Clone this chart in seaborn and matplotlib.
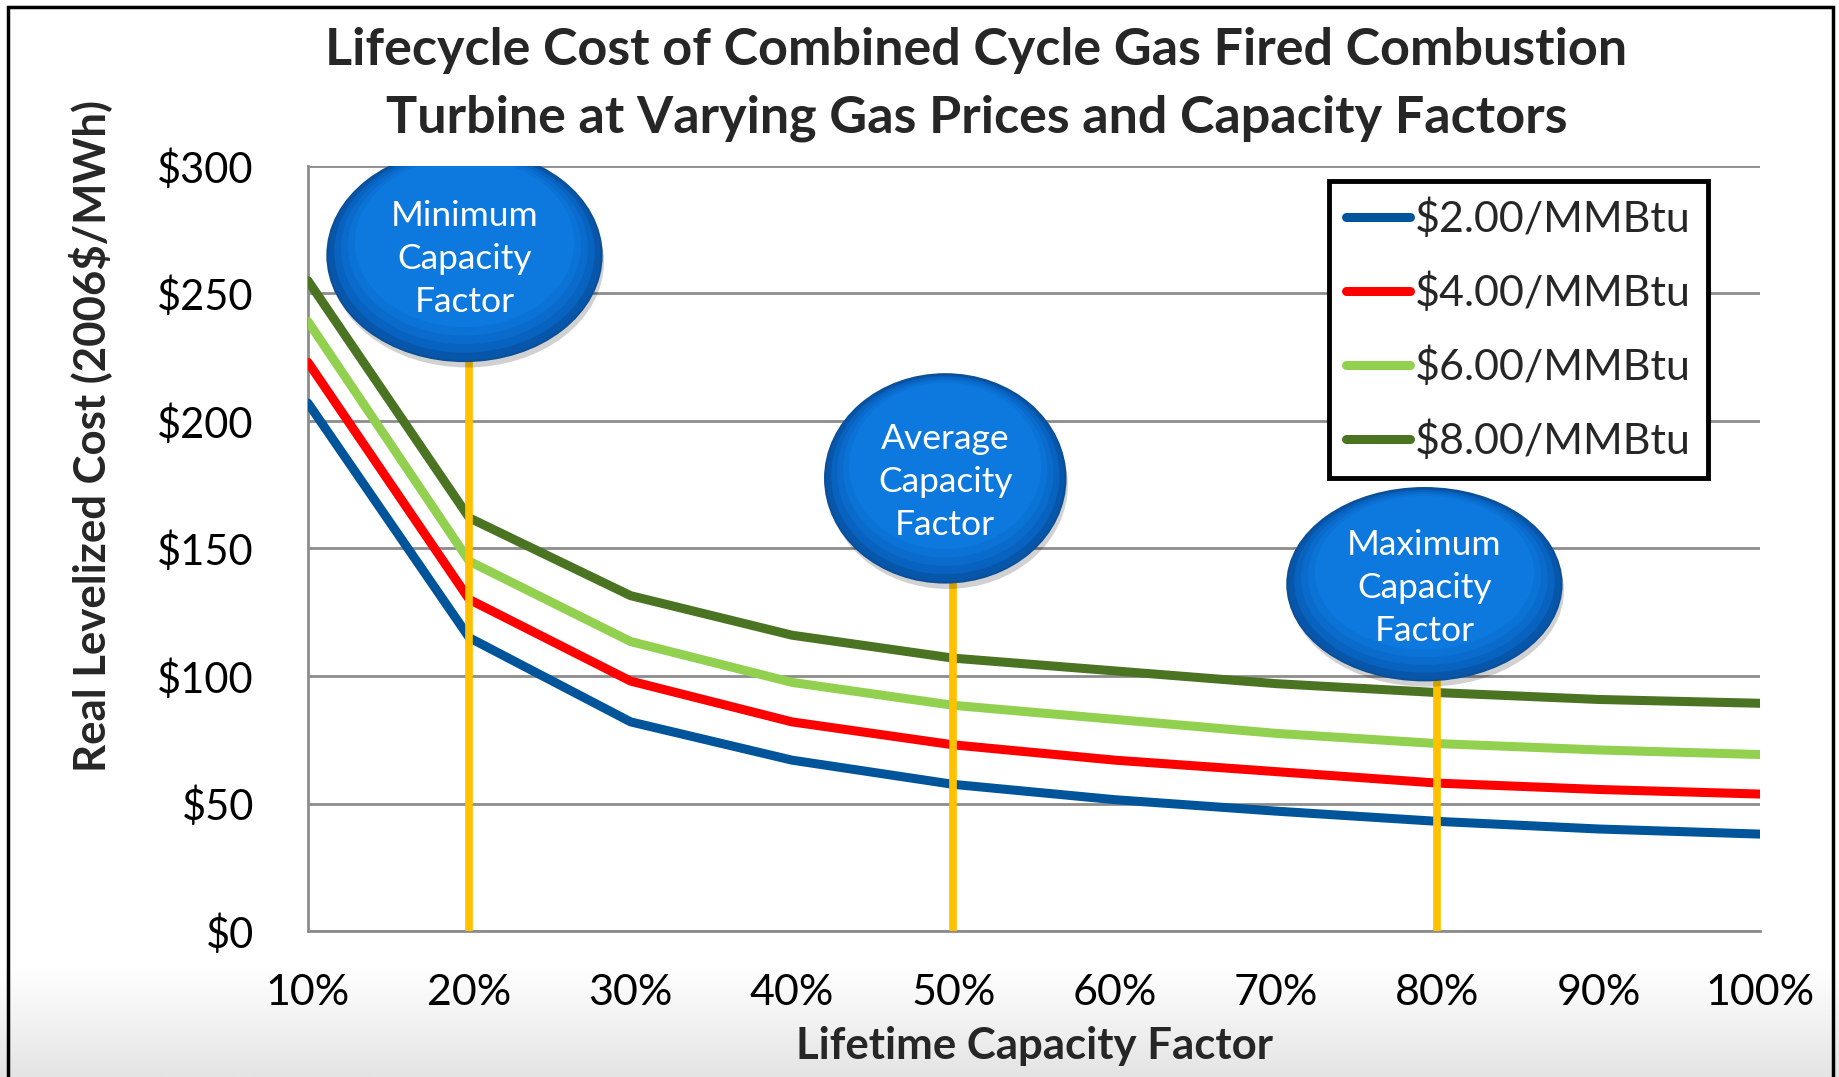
import numpy as np
import pandas as pd
import seaborn as sns
import matplotlib.pyplot as plt
from matplotlib.patches import Ellipse, Rectangle
from matplotlib.colors import LinearSegmentedColormap

# values
capacity_factor = [10, 20, 30, 40, 50, 60, 70, 80, 90, 100]
cost_2 = [207, 115, 82, 67, 57.5, 51.5, 47, 43, 40, 38]
cost_4 = [223, 130, 98, 82, 73, 67, 62.5, 58, 55.5, 53.7]
cost_6 = [239, 145, 113.5, 97.5, 88.5, 83, 77.5, 73.5, 71, 69.2]
cost_8 = [255, 162, 131.5, 116, 107, 102, 97, 93.5, 90.8, 89.3]
series_names = ["$2.00/MMBtu", "$4.00/MMBtu", "$6.00/MMBtu", "$8.00/MMBtu"]
series_colors = ["#00559A", "#FF0000", "#92D050", "#4A7322"]

marker_x = [20, 50, 80]
marker_top = [224.6, 136.6, 98.6]
bubble_labels = ["Minimum\nCapacity\nFactor", "Average\nCapacity\nFactor", "Maximum\nCapacity\nFactor"]
bubble_xy = [(19.7, 265), (49.5, 177.5), (79.2, 136)]
bubble_wh = [(17.0, 83), (14.9, 81.7), (17.0, 75.4)]

rows = []
for name, vals in zip(series_names, [cost_2, cost_4, cost_6, cost_8]):
    for cf, v in zip(capacity_factor, vals):
        rows.append({"cf": cf, "cost": v, "price": name})
df = pd.DataFrame(rows)

sns.set_theme(style="white")
plt.rcParams['font.family'] = ['Lato', 'DejaVu Sans']

fig = plt.figure(figsize=(18.39, 10.77), dpi=100)
fig.patch.set_facecolor('white')

# light gray fade along the bottom of the slide
bg = fig.add_axes([0, 0, 1, 110 / 1077], zorder=-10)
fade = LinearSegmentedColormap.from_list('fade', ['#E4E4E4', '#F2F2F2', '#FFFFFF'])
bg.imshow(np.linspace(0, 1, 100)[:, None], aspect='auto', cmap=fade, origin='lower', extent=[0, 1, 0, 1])
bg.axis('off')
fig.patches.append(Rectangle((8 / 1839, -0.1), (1833 - 8) / 1839, 1.1 - 7 / 1077, transform=fig.transFigure,
                             fill=False, edgecolor='black', linewidth=2.5, zorder=5))

ax = fig.add_axes([308 / 1839, 146 / 1077, 1452 / 1839, 765 / 1077])
ax.patch.set_alpha(0)

sns.lineplot(data=df, x="cf", y="cost", hue="price", palette=series_colors, linewidth=6.5,
             ax=ax, legend=True, zorder=3, solid_capstyle='round')

ax.set_xlim(10, 100)
ax.set_ylim(0, 300)
ax.set_xticks(capacity_factor)
ax.set_xticklabels([f"{v}%" for v in capacity_factor])
ax.set_yticks(range(0, 301, 50))
ax.set_yticklabels([f"${v}" for v in range(0, 301, 50)])
ax.yaxis.grid(True, color='#8C8C8C', linewidth=2)
ax.xaxis.grid(False)
for s in ['top', 'right']:
    ax.spines[s].set_visible(False)
for s in ['left', 'bottom']:
    ax.spines[s].set_color('#8C8C8C')
    ax.spines[s].set_linewidth(2)
ax.tick_params(axis='both', direction='out', length=11, width=1.5, color='#8C8C8C', labelcolor='black')
ax.tick_params(axis='x', pad=20, labelsize=31)
ax.tick_params(axis='y', pad=28, labelsize=30)

# yellow markers and bubbles (bubbles shaded lighter toward the middle)
shades = ['#0756AA', '#0862BF', '#0A6BCD', '#0B72D6', '#0D78DD']
for x, top in zip(marker_x, marker_top):
    ax.plot([x, x], [0, top], color='#FFC000', linewidth=5.5, zorder=4, solid_capstyle='butt')
for (cx, cy), (w, h), lab in zip(bubble_xy, bubble_wh, bubble_labels):
    ax.add_patch(Ellipse((cx + 0.15, cy - 2.5), w, h, facecolor='#000000', alpha=0.18, edgecolor='none', zorder=5))
    for i, c in enumerate(shades):
        k = 1 - i * 0.05
        ax.add_patch(Ellipse((cx, cy + (1 - k) * h * 0.3), w * k, h * k, facecolor=c, edgecolor='none', zorder=6))
    ax.add_patch(Ellipse((cx, cy), w, h, facecolor='none', edgecolor='#0A4F98', linewidth=1.5, zorder=6))
    ax.text(cx, cy - 1.5, lab, color='white', fontsize=25.5, ha='center', va='center', linespacing=1.43, zorder=7)

ax.set_xlabel("Lifetime Capacity Factor", fontsize=31.5, fontweight='bold', labelpad=10)
ax.set_ylabel("Real Levelized Cost (2006$/MWh)", fontsize=31.5, fontweight='bold', va='center')
ax.yaxis.set_label_coords(-0.150, 0.647)

handles, labels = ax.get_legend_handles_labels()
leg = ax.legend(handles, labels, loc='upper right', bbox_to_anchor=(0.964, 0.980), fontsize=31,
                frameon=True, fancybox=False, edgecolor='black', framealpha=1, handlelength=1.5,
                handletextpad=0.1, labelspacing=0.78, borderpad=0.4, borderaxespad=0)
leg.get_frame().set_linewidth(3.5)
leg.set_zorder(8)

fig.text(0.531, 0.9215, "Lifecycle Cost of Combined Cycle Gas Fired Combustion\nTurbine at Varying Gas Prices and Capacity Factors",
         ha='center', va='center', fontsize=37.5, fontweight='bold', linespacing=1.54)

fig.savefig("out.png", dpi=100)
